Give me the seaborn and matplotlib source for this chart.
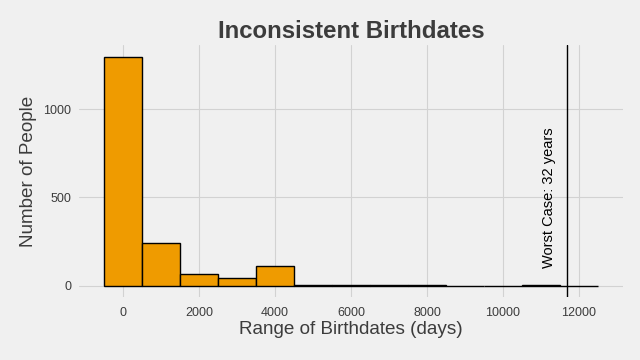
import matplotlib.pyplot as plt
import numpy as np
import seaborn as sns

# --- Data ---
BIN_CENTERS = [0, 1000, 2000, 3000, 4000, 5000, 6000, 7000, 8000, 9000, 10000, 11000, 12000]
COUNTS = [1296, 242, 68, 45, 113, 5, 5, 5, 5, 0, 0, 5, 0]
BIN_EDGES = [-500, 500, 1500, 2500, 3500, 4500, 5500, 6500, 7500, 8500, 9500, 10500, 11500, 12500]
WORST_CASE_DAYS = 32 * 365.25
WORST_CASE_LABEL = "Worst Case: 32 years"

BG = "#F0F0F0"
GRID = "#D2D2D2"
TEXT = "#3C3C3C"
BAR = "#EF9B00"

sns.set_style("whitegrid", {"axes.facecolor": BG, "figure.facecolor": BG,
                            "grid.color": GRID, "axes.edgecolor": BG})
plt.rcParams['font.family'] = ['Liberation Sans', 'DejaVu Sans']

fig, ax = plt.subplots(figsize=(6.4, 3.6), dpi=100)
fig.subplots_adjust(left=0.124, right=0.973, top=0.875, bottom=0.175)

sns.histplot(x=BIN_CENTERS, weights=COUNTS, bins=BIN_EDGES, color=BAR,
             edgecolor="black", linewidth=1.0, alpha=1.0, ax=ax, zorder=2)

ax.axvline(WORST_CASE_DAYS, color="black", linewidth=1.0, zorder=3)
ax.text(WORST_CASE_DAYS - 480, 500, WORST_CASE_LABEL, rotation=90,
        ha="center", va="center", fontsize=10.5, color="black", zorder=4)

ax.set_xlim(-1150, 13150)
ax.set_ylim(-65, 1365)
ax.set_xticks(np.arange(0, 12001, 2000))
ax.set_yticks([0, 500, 1000])
ax.grid(True, color=GRID, linewidth=0.8, zorder=0)
ax.set_axisbelow(True)
for side in ax.spines.values():
    side.set_visible(False)
ax.tick_params(axis="both", length=0, labelsize=9, labelcolor=TEXT)
ax.tick_params(axis="x", pad=7)
ax.tick_params(axis="y", pad=6)

ax.set_title("Inconsistent Birthdates", fontsize=17.3, fontweight="bold", color=TEXT, pad=5)
ax.set_xlabel("Range of Birthdates (days)", fontsize=13.6, color=TEXT, labelpad=2)
ax.set_ylabel("Number of People", fontsize=13.6, color=TEXT, labelpad=4)

fig.savefig("out.png", dpi=100, facecolor=BG)
